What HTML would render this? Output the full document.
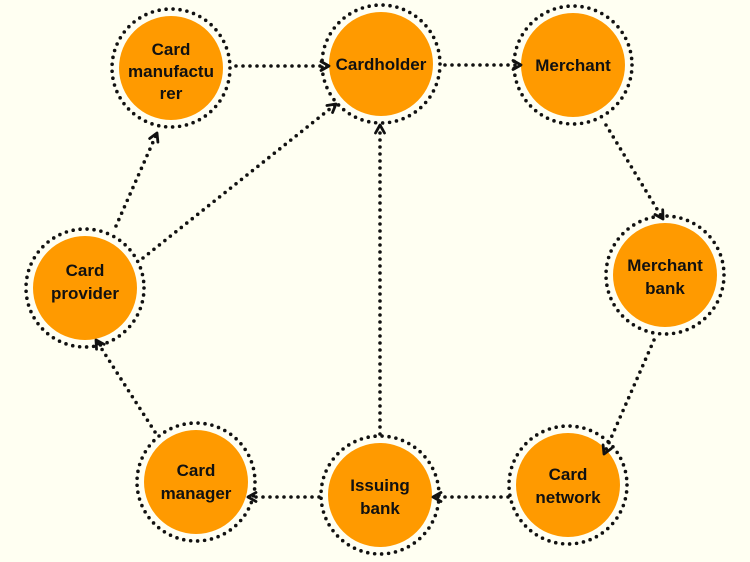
<!DOCTYPE html>
<html><head><meta charset="utf-8"><style>
html,body{margin:0;padding:0;background:#fffff2;}
svg{display:block}
text{font-family:"Liberation Sans",sans-serif;font-weight:bold;font-size:17px;fill:#111;text-anchor:middle}
</style></head><body>
<svg width="750" height="562" viewBox="0 0 750 562">
<defs>
<marker id="a" viewBox="0 0 12 12" refX="10" refY="6" markerWidth="12" markerHeight="12" markerUnits="userSpaceOnUse" orient="auto">
<path d="M2,1.5 L10,6 L2,10.5" fill="none" stroke="#111" stroke-width="2.8" stroke-linecap="round" stroke-linejoin="round"/>
</marker>
</defs>
<g>
<circle cx="171" cy="68" r="52" fill="#ff9a00"/>
<circle cx="381" cy="64" r="52" fill="#ff9a00"/>
<circle cx="573" cy="65" r="52" fill="#ff9a00"/>
<circle cx="665" cy="275" r="52" fill="#ff9a00"/>
<circle cx="568" cy="485" r="52" fill="#ff9a00"/>
<circle cx="380" cy="495" r="52" fill="#ff9a00"/>
<circle cx="196" cy="482" r="52" fill="#ff9a00"/>
<circle cx="85" cy="288" r="52" fill="#ff9a00"/>
</g>
<g fill="none" stroke="#111" stroke-width="3.6" stroke-linecap="round" stroke-dasharray="0 7">
<circle cx="171" cy="68" r="59"/>
<circle cx="381" cy="64" r="59"/>
<circle cx="573" cy="65" r="59"/>
<circle cx="665" cy="275" r="59"/>
<circle cx="568" cy="485" r="59"/>
<circle cx="380" cy="495" r="59"/>
<circle cx="196" cy="482" r="59"/>
<circle cx="85" cy="288" r="59"/>
</g>
<g fill="none" stroke="#111" stroke-width="3.6" stroke-linecap="round" stroke-dasharray="0 7" marker-end="url(#a)">
<line x1="236" y1="66" x2="329" y2="66"/>
<line x1="445" y1="65" x2="521" y2="65"/>
<line x1="606" y1="125" x2="663" y2="219"/>
<line x1="654" y1="340" x2="604" y2="454"/>
<line x1="508" y1="497" x2="433" y2="497"/>
<line x1="319" y1="497" x2="248" y2="497"/>
<line x1="155" y1="432" x2="96" y2="340"/>
<line x1="116" y1="226" x2="157" y2="133"/>
<line x1="143" y1="258" x2="336" y2="104"/>
<line x1="380" y1="434" x2="380" y2="125"/>
</g>
<text x="171" y="55">Card</text>
<text x="171" y="77">manufactu</text>
<text x="171" y="99">rer</text>
<text x="381" y="70">Cardholder</text>
<text x="573" y="71">Merchant</text>
<text x="665" y="271">Merchant</text>
<text x="665" y="294">bank</text>
<text x="568" y="480">Card</text>
<text x="568" y="503">network</text>
<text x="380" y="491">Issuing</text>
<text x="380" y="514">bank</text>
<text x="196" y="476">Card</text>
<text x="196" y="499">manager</text>
<text x="85" y="276">Card</text>
<text x="85" y="299">provider</text>
</svg>
</body></html>
